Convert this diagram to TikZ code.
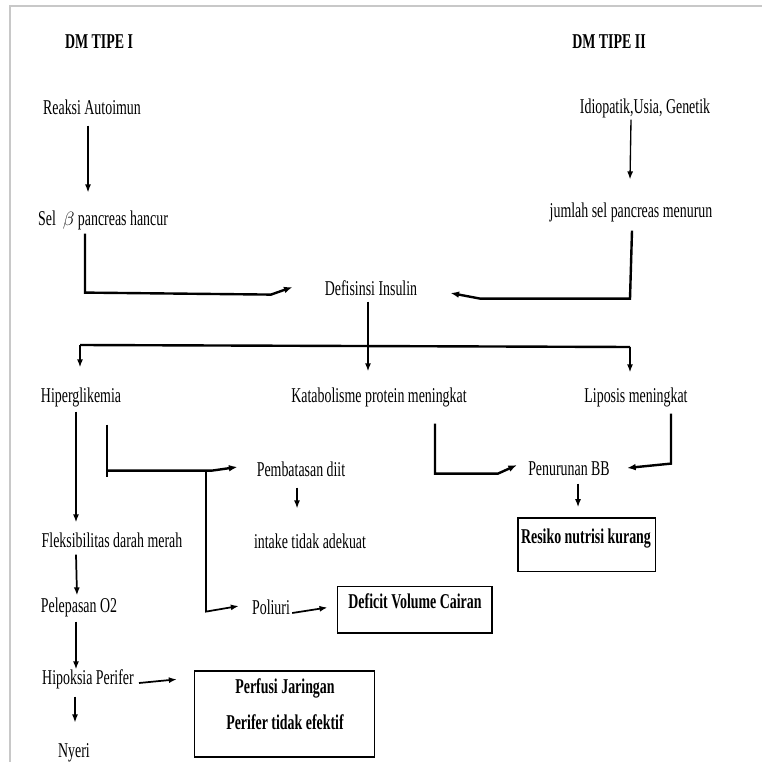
\documentclass[tikz,border=0pt]{standalone}
\usepackage{fontspec}
\setmainfont[FakeStretch=0.66]{Liberation Serif}
\usepackage{tikz}
\usetikzlibrary{arrows.meta, calc}
\definecolor{frameGray}{HTML}{C8C8C8}

\begin{document}
\begin{tikzpicture}[
    x=0.75pt, y=-0.75pt,
    txt/.style={font=\fontsize{15.8}{18}\selectfont, text height=10.8pt, text depth=3.2pt, inner sep=1.5pt},
    head/.style={txt, font=\fontsize{15.8}{18}\selectfont\bfseries},
    outbox/.style={rectangle, draw=black, line width=1pt},
    arrow/.style={-{Latex[length=6pt, width=4.5pt]}, line width=1.3pt},
    thin_arrow/.style={-{Latex[length=6pt, width=4.5pt]}, line width=1pt},
    heavy/.style={line width=1.8pt},
    heavy_arrow/.style={-{Latex[length=6.5pt, width=5pt]}, line width=1.8pt}
]
\useasboundingbox (0,0) rectangle (762,762);

% Frame
\draw[frameGray, line width=0.8pt] (10,762) -- (10,6) -- (762,6);

% Types
\node[head] (dmone) at (99,43) {DM TIPE I};
\node[head] (dmtwo) at (609,43) {DM TIPE II};

% Causes
\node[txt] (reaksi) at (92,109) {Reaksi Autoimun};
\node[txt] (idiopatik) at (645,108) {Idiopatik,Usia, Genetik};
\node[txt] (sel) at (103,220) {Sel\ \ $\beta$ pancreas hancur};
\node[txt] (jumlah) at (631,212) {jumlah sel pancreas menurun};
\node[txt] (defisinsi) at (371,290) {Defisinsi Insulin};

% Effects
\node[txt] (hiper) at (81,397) {Hiperglikemia};
\node[txt] (katabolisme) at (379,397) {Katabolisme protein meningkat};
\node[txt] (liposis) at (636,397) {Liposis meningkat};
\node[txt] (pembatasan) at (301,471) {Pembatasan diit};
\node[txt] (penurunan) at (569,470) {Penurunan BB};
\node[txt] (fleksi) at (112,542) {Fleksibilitas darah merah};
\node[txt] (intake) at (310,543) {intake tidak adekuat};
\node[txt] (pelepasan) at (79,607) {Pelepasan O2};
\node[txt] (poliuri) at (271,609) {Poliuri};
\node[txt] (hipoksia) at (88,679) {Hipoksia Perifer};
\node[txt] (nyeri) at (74,752) {Nyeri};

% Diagnoses
\node[outbox, minimum width=116pt, minimum height=35pt] (deficitbox) at (414.5,609.5) {};
\node[head] (deficit) at (415,603) {Deficit Volume Cairan};
\node[outbox, minimum width=103pt, minimum height=40pt] (resikobox) at (586.5,544.5) {};
\node[head] (resiko) at (586,538) {Resiko nutrisi kurang};
\node[outbox, minimum width=135pt, minimum height=64.5pt] (perfusibox) at (284.5,714) {};
\node[head] (perfusione) at (285,688) {Perfusi Jaringan};
\node[head] (perfusitwo) at (285,724) {Perifer tidak efektif};

% Arrows
\draw[thin_arrow] ($(reaksi.south)+(-4,5)$) -- ($(reaksi.south |- sel.north)+(-4,-16)$);
\draw[thin_arrow] (idiopatik.south -| jumlah) -- ($(jumlah.north)+(-1,-21)$);
\draw[heavy_arrow] ($(sel.south)+(-18,2)$) -- ++(0,59) -- ++(186,2) -- ($(defisinsi.west)+(-30,-3)$);
\draw[heavy_arrow] ($(jumlah.south)+(1,7)$) -- ++(-2,68) -- ++(-150,0) -- ($(defisinsi.east)+(31,3)$);

% Bus
\coordinate (busleft) at (80,345);
\coordinate (busright) at (630,347);
\draw[heavy] (busleft) -- (busright);
\draw[arrow] ($(defisinsi.south)+(-3,0)$) -- ($(defisinsi.south |- katabolisme.north)+(-3,-14)$);
\draw[arrow] (busleft) -- ($(busleft |- hiper.north)+(0,-18)$);
\draw[arrow] (busright) -- ($(busright |- liposis.north)+(0,-13)$);

% Hiperglikemia branch
\draw[arrow] ($(hiper.south)+(-5,3)$) -- ($(hiper.south |- fleksi.north)+(-5,-8)$);
\draw[heavy] ($(hiper.south)+(26,16)$) -- ++(0,52);
\draw[heavy_arrow] ($(hiper.south)+(26,62)$) -- ++(105,0) -- ($(pembatasan.west)+(-17,-4)$);
\draw[arrow] ($(hiper.south)+(125,62)$) -- ++(0,141) -- ($(poliuri.west)+(-11,-3)$);
\draw[thin_arrow] ($(pembatasan.south)+(-4,5)$) -- ($(pembatasan.south |- intake.north)+(-4,-23)$);
\draw[arrow] ($(poliuri.east)+(0,4)$) -- ($(deficitbox.west)+(-9,-2)$);
\draw[arrow] ($(fleksi.south)+(-36,1)$) -- ($(pelepasan.north)+(-2,0)$);
\draw[arrow] ($(pelepasan.south)+(-3,3)$) -- ($(hipoksia.north)+(-12,2)$);
\draw[arrow] ($(hipoksia.east)+(3,4)$) -- ($(perfusibox.north west)+(-17,9)$);
\draw[thin_arrow] ($(hipoksia.south)+(-13,6)$) -- ($(nyeri.north)+(1,-18)$);

% Weight loss branch
\draw[heavy_arrow] ($(katabolisme.south)+(56,15)$) -- ++(0,50) -- ++(63,0) -- ($(penurunan.west)+(-9,-5)$);
\draw[heavy_arrow] ($(liposis.south)+(35,5)$) -- ++(0,50) -- ($(penurunan.east)+(15,-2)$);
\draw[thin_arrow] ($(penurunan.south)+(9,2)$) -- ($(resikobox.north)+(-8.5,-10)$);

\end{tikzpicture}
\end{document}
